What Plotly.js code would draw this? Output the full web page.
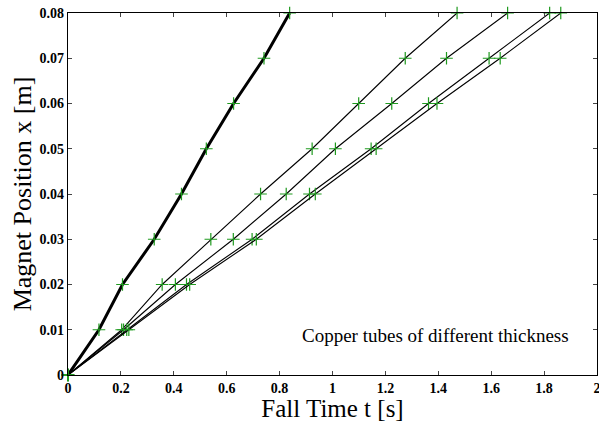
<!DOCTYPE html>
<html>
<head>
<meta charset="utf-8">
<script src="https://cdn.plot.ly/plotly-3.0.1.min.js"></script>
<style>body{margin:0;padding:0;background:#fff}#chart{width:599px;height:422px}</style>
</head>
<body>
<div id="chart"></div>
<script>
const positions = [0, 0.01, 0.02, 0.03, 0.04, 0.05, 0.06, 0.07, 0.08];
const timesThick = [0, 0.117, 0.206, 0.326, 0.429, 0.523, 0.626, 0.741, 0.838];
const timesA = [0, 0.203, 0.356, 0.540, 0.728, 0.923, 1.099, 1.275, 1.471];
const timesB = [0, 0.210, 0.406, 0.625, 0.825, 1.011, 1.224, 1.431, 1.662];
const timesC = [0, 0.222, 0.448, 0.696, 0.913, 1.146, 1.363, 1.592, 1.821];
const timesD = [0, 0.230, 0.460, 0.712, 0.935, 1.165, 1.395, 1.634, 1.863];
const xTicks = [0, 0.2, 0.4, 0.6, 0.8, 1, 1.2, 1.4, 1.6, 1.8, 2];
const xTickText = ['0', '0.2', '0.4', '0.6', '0.8', '1', '1.2', '1.4', '1.6', '1.8', '2'];
const yTicks = [0, 0.01, 0.02, 0.03, 0.04, 0.05, 0.06, 0.07, 0.08];
const yTickText = ['0', '0.01', '0.02', '0.03', '0.04', '0.05', '0.06', '0.07', '0.08'];
const xTitle = 'Fall Time t [s]';
const yTitle = 'Magnet Position x [m]';
const note = 'Copper tubes of different thickness';

function series(t, w) {
  return {
    x: t, y: positions, type: 'scatter', mode: 'lines+markers',
    line: {color: '#000', width: w},
    marker: {symbol: 'cross-thin-open', size: 9, color: '#1f9a1f', line: {color: '#1f9a1f', width: 1.2}},
    showlegend: false, cliponaxis: false
  };
}
const bold = s => '<b>' + s + '</b>';
const data = [series(timesThick, 3), series(timesA, 1.1), series(timesB, 1.1), series(timesC, 1.1), series(timesD, 1.1)];
const serif = 'Liberation Serif';
const tickFont = {family: serif, size: 14, color: '#000'};
const layout = {
  width: 599, height: 422,
  margin: {l: 68, r: 1.5, t: 12.5, b: 47},
  paper_bgcolor: '#fff', plot_bgcolor: '#fff',
  xaxis: {
    range: [0, 2], tickvals: xTicks, ticktext: xTickText.map(bold), ticks: 'inside', ticklen: 4,
    showline: true, mirror: 'ticks', linecolor: '#000', linewidth: 1.3, showgrid: false, zeroline: false,
    ticklabeloverflow: 'allow', automargin: false,
    tickfont: tickFont, title: {text: xTitle, font: {family: serif, size: 25, color: '#000'}, standoff: 0}
  },
  yaxis: {
    range: [0, 0.08], tickvals: yTicks, ticktext: yTickText.map(bold), ticks: 'inside', ticklen: 4,
    showline: true, mirror: 'ticks', linecolor: '#000', linewidth: 1.3, showgrid: false, zeroline: false,
    automargin: false, tickfont: tickFont,
    title: {text: yTitle, font: {family: serif, size: 26, color: '#000'}, standoff: 0}
  },
  annotations: [{
    x: 1.389, y: 0.0088, xref: 'x', yref: 'y', text: note, showarrow: false,
    font: {family: serif, size: 19, color: '#000'}
  }]
};
Plotly.newPlot('chart', data, layout, {staticPlot: true});
</script>
</body>
</html>
